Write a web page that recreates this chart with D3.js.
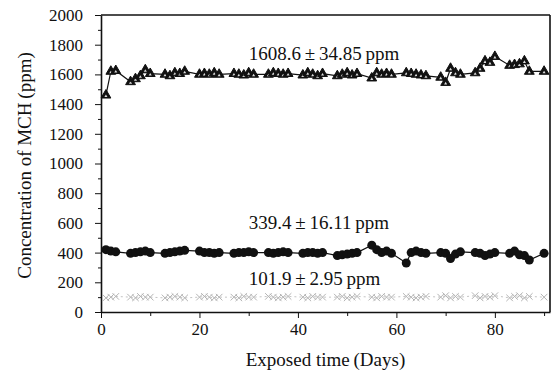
<!DOCTYPE html>
<html>
<head>
<meta charset="utf-8">
<script src="https://cdn.jsdelivr.net/npm/d3@7"></script>
<style>
  body { margin: 0; background: #fff; }
  svg text { font-family: "Liberation Serif", "Times New Roman", serif; fill: #111; }
  .axis path, .axis line { stroke: #111; }
</style>
</head>
<body>
<div class="chart"></div>
<script>
// sampling days (weekday clusters)
const days = [1, 2, 3, 6, 7, 8, 9, 10, 13, 14, 15, 16, 17, 20, 21, 22, 23, 24,
  27, 28, 29, 30, 31, 34, 35, 36, 37, 38, 41, 42, 43, 44, 45, 48, 49, 50, 51, 52,
  55, 56, 57, 58, 59, 62, 63, 64, 65, 66, 69, 70, 71, 72, 73, 76, 77, 78, 79, 80,
  83, 84, 85, 86, 87, 90];

const highVals = [1460, 1620, 1625, 1550, 1570, 1590, 1630, 1605, 1600, 1590, 1610, 1605, 1620,
  1600, 1605, 1600, 1610, 1600, 1605, 1600, 1595, 1610, 1600, 1600, 1610, 1605, 1600, 1605,
  1595, 1610, 1600, 1590, 1605, 1590, 1600, 1610, 1595, 1605, 1575, 1610, 1600, 1605, 1600,
  1610, 1605, 1600, 1595, 1590, 1580, 1545, 1640, 1610, 1600, 1610, 1640, 1690, 1680, 1720,
  1660, 1665, 1670, 1690, 1620, 1620];

const midVals = [420, 410, 405, 395, 400, 405, 410, 400, 395, 400, 405, 410, 415,
  410, 400, 400, 395, 400, 395, 400, 400, 405, 400, 400, 395, 400, 405, 400,
  395, 400, 400, 395, 400, 380, 385, 390, 395, 400, 450, 420, 400, 410, 395,
  330, 400, 410, 400, 395, 400, 395, 360, 390, 405, 400, 395, 380, 390, 400,
  395, 410, 385, 380, 350, 395];

const lowVals = [95, 100, 105, 100, 95, 105, 100, 100, 95, 100, 105, 100, 95,
  100, 105, 100, 95, 100, 100, 95, 105, 100, 100, 105, 100, 95, 100, 105,
  100, 95, 105, 100, 100, 100, 105, 95, 100, 105, 100, 95, 105, 100, 100,
  105, 100, 95, 100, 105, 100, 110, 95, 105, 100, 110, 95, 105, 100, 110,
  95, 105, 110, 95, 105, 100];

const labels = ["1608.6\u2009\u00b1\u200934.85\u2009ppm", "339.4\u2009\u00b1\u200916.11\u2009ppm", "101.9\u2009\u00b1\u20092.95\u2009ppm"];
const labelPos = [[30, 1697], [30, 559], [30, 182]];

const width = 554;
const height = 378;
const margin = {top: 15, right: 4, bottom: 66, left: 101};

const svg = d3.select(".chart").append("svg")
  .attr("width", width)
  .attr("height", height);

const xScale = d3.scaleLinear()
  .domain([0, 91.2])
  .range([margin.left, width - margin.right]);
const yScale = d3.scaleLinear()
  .domain([0, 2000])
  .range([height - margin.bottom, margin.top]);

// minor ticks first
svg.append("g")
  .attr("class", "axis")
  .attr("transform", "translate(0," + (height - margin.bottom) + ")")
  .call(d3.axisBottom(xScale).tickValues(d3.range(10, 91, 20)).tickSize(4).tickFormat(""))
  .select(".domain").remove();
svg.append("g")
  .attr("class", "axis")
  .attr("transform", "translate(" + margin.left + ",0)")
  .call(d3.axisLeft(yScale).tickValues(d3.range(100, 2000, 200)).tickSize(3).tickFormat(""))
  .select(".domain").remove();

const xAxis = svg.append("g")
  .attr("class", "axis")
  .attr("transform", "translate(0," + (height - margin.bottom) + ")")
  .call(d3.axisBottom(xScale).tickValues([0, 20, 40, 60, 80]).tickSize(6).tickSizeOuter(0).tickPadding(5));
xAxis.selectAll("text").style("font-size", "17px");

const yAxis = svg.append("g")
  .attr("class", "axis")
  .attr("transform", "translate(" + margin.left + ",0)")
  .call(d3.axisLeft(yScale).tickValues(d3.range(0, 2001, 200)).tickFormat(d3.format("d"))
    .tickSize(6).tickSizeOuter(0).tickPadding(12));
yAxis.selectAll("text").style("font-size", "17px");
svg.selectAll(".axis path").attr("stroke-width", 1.6);

// frame top & right
svg.append("line")
  .attr("x1", xScale(0)).attr("x2", xScale(91.2))
  .attr("y1", yScale(2000)).attr("y2", yScale(2000))
  .attr("stroke", "#111").attr("stroke-width", 1.6);
svg.append("line")
  .attr("x1", xScale(91.2)).attr("x2", xScale(91.2))
  .attr("y1", yScale(2000)).attr("y2", yScale(0))
  .attr("stroke", "#111").attr("stroke-width", 1.6);

const makeLine = vals => d3.line()
  .x((d, i) => xScale(days[i]))
  .y(d => yScale(d))(vals);

// low series (faint crosses)
svg.append("path")
  .attr("d", makeLine(lowVals))
  .attr("fill", "none")
  .attr("stroke", "#c4c4c4")
  .attr("stroke-width", 1)
  .attr("stroke-dasharray", "2,3");
svg.selectAll(".lowpt")
  .data(lowVals)
  .enter()
  .append("path")
  .attr("class", "lowpt")
  .attr("transform", (d, i) => "translate(" + xScale(days[i]) + "," + yScale(d) + ")")
  .attr("d", d3.symbol().type(d3.symbolTimes).size(30))
  .attr("fill", "none")
  .attr("stroke", "#b4b4b4")
  .attr("stroke-width", 1);

// mid series (filled circles)
svg.append("path")
  .attr("d", makeLine(midVals))
  .attr("fill", "none")
  .attr("stroke", "#111")
  .attr("stroke-width", 1.2);
svg.selectAll(".midpt")
  .data(midVals)
  .enter()
  .append("circle")
  .attr("class", "midpt")
  .attr("cx", (d, i) => xScale(days[i]))
  .attr("cy", d => yScale(d))
  .attr("r", 4.5)
  .attr("fill", "#111");

// high series (dark triangles, tiny light centre)
svg.append("path")
  .attr("d", makeLine(highVals))
  .attr("fill", "none")
  .attr("stroke", "#111")
  .attr("stroke-width", 1.2);
const tri = svg.selectAll(".highpt")
  .data(highVals)
  .enter()
  .append("g")
  .attr("class", "highpt")
  .attr("transform", (d, i) => "translate(" + xScale(days[i]) + "," + yScale(d) + ")");
tri.append("path")
  .attr("d", d3.symbol().type(d3.symbolTriangle).size(42))
  .attr("fill", "#111")
  .attr("stroke", "#111")
  .attr("stroke-width", 1);
tri.append("path")
  .attr("d", d3.symbol().type(d3.symbolTriangle).size(4))
  .attr("transform", "translate(0,1)")
  .attr("fill", "#ddd");

// annotations
svg.selectAll(".note")
  .data(labels)
  .enter()
  .append("text")
  .attr("class", "note")
  .attr("x", (d, i) => xScale(labelPos[i][0]))
  .attr("y", (d, i) => yScale(labelPos[i][1]))
  .style("font-size", "19px")
  .text(d => d);

// axis titles
svg.append("text")
  .attr("x", (xScale(0) + xScale(91.2)) / 2)
  .attr("y", 366)
  .attr("text-anchor", "middle")
  .style("font-size", "19px")
  .text("Exposed time\u2009(Days)");
svg.append("text")
  .attr("transform", "translate(31," + (yScale(1000) + 2) + ") rotate(-90)")
  .attr("text-anchor", "middle")
  .style("font-size", "19px")
  .text("Concentration of MCH\u2009(ppm)");
</script>
</body>
</html>
